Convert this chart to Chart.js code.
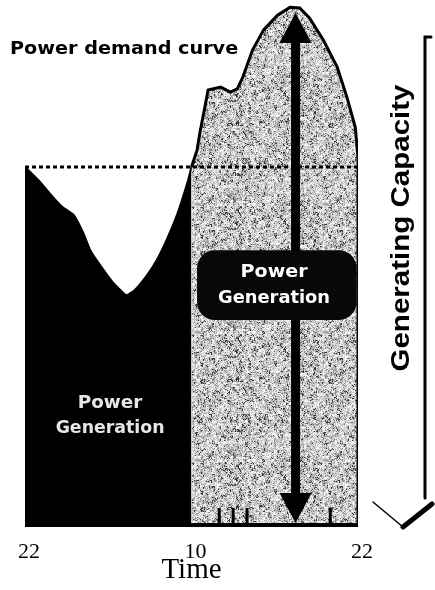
<!DOCTYPE html>
<html>
<head>
<meta charset="utf-8">
<script src="https://cdn.jsdelivr.net/npm/chart.js@4.4.1/dist/chart.umd.min.js"></script>
<style>
  html, body { margin: 0; padding: 0; background: #fff; }
</style>
</head>
<body>
<canvas id="chart" width="435" height="590"></canvas>
<script>
// Hours counted from 22:00, demand as % of generating capacity
const offPeakHours  = [0, 1.1, 2.0, 2.7, 3.5, 4.2, 4.7, 5.4, 6.3, 7.3, 7.9, 8.8, 9.5, 10.2, 11.0, 11.7, 12];
const offPeakDemand = [100, 95.8, 91.7, 88.9, 86.7, 81.7, 76.9, 72.8, 68.1, 64.4, 65.8, 70.0, 74.2, 79.7, 87.2, 95.6, 100];
const peakHours  = [12, 12.4, 12.6, 13.2, 14.1, 14.8, 15.3, 15.7, 16.4, 17.2, 18.2, 19.1, 19.8, 20.5, 21.5, 22.5, 23.2, 23.8, 24, 24];
const peakDemand = [100, 104.7, 109.4, 121.4, 122.2, 120.8, 121.7, 125, 132.5, 138.1, 142.2, 144.4, 144.2, 141.4, 135.3, 127.8, 119.4, 111.1, 102.8, 0];
const capacity = 100;
const tickHours  = [0, 12, 24];
const tickLabels = ['22', '10', '22'];
const hourMarks  = [14, 15, 16, 22];

// speckled grey like the scanned original
function stipple() {
    const n = 128;
    const c = document.createElement('canvas');
    c.width = c.height = n;
    const g = c.getContext('2d');
    const img = g.createImageData(n, n);
    const hash = k => {
        let h = (k * 2654435761) >>> 0;
        h ^= h >>> 15; h = Math.imul(h, 2246822519) >>> 0;
        h ^= h >>> 13; h = Math.imul(h, 3266489917) >>> 0;
        h ^= h >>> 16;
        return (h >>> 0) / 4294967296;
    };
    for (let py = 0; py < n; py++) {
        for (let px = 0; px < n; px++) {
            const i = py * n + px;
            const coarse = hash(Math.floor(py / 3) * 977 + Math.floor(px / 3) + 100003);
            const r = 0.6 * hash(i + 1) + 0.4 * coarse;
            const v = r < 0.2 ? 60 : r < 0.36 ? 145 : r < 0.58 ? 195 : r < 0.78 ? 228 : 252;
            img.data[i * 4] = img.data[i * 4 + 1] = img.data[i * 4 + 2] = v;
            img.data[i * 4 + 3] = 255;
        }
    }
    g.putImageData(img, 0, 0);
    return g.createPattern(c, 'repeat');
}

function wideText(ctx, text, x, y, sx) {
    ctx.save();
    ctx.translate(x, y);
    ctx.scale(sx, 1);
    ctx.fillText(text, 0, 0);
    ctx.restore();
}

const decor = {
    id: 'decor',
    afterDatasetsDraw(chart) {
        const { ctx, scales: { x, y } } = chart;
        const base = y.getPixelForValue(0);
        ctx.save();
        ctx.fillStyle = '#000';

        // bottom edge + hour marks
        ctx.fillRect(x.getPixelForValue(0), base - 4, x.getPixelForValue(24) - x.getPixelForValue(0), 4);
        hourMarks.forEach(h => ctx.fillRect(x.getPixelForValue(h) - 1.5, base - 19, 3, 15));

        // double-headed arrow
        const ax = x.getPixelForValue(19.5);
        const top = y.getPixelForValue(142.8);
        const bot = y.getPixelForValue(1.1);
        ctx.fillRect(ax - 4.5, top + 20, 9, bot - top - 40);
        ctx.beginPath();
        ctx.moveTo(ax, top); ctx.lineTo(ax + 16, top + 30); ctx.lineTo(ax - 16, top + 30); ctx.closePath();
        ctx.moveTo(ax, bot); ctx.lineTo(ax + 16, bot - 30); ctx.lineTo(ax - 16, bot - 30); ctx.closePath();
        ctx.fill();

        // rounded label box
        const bx0 = x.getPixelForValue(12.4), bx1 = x.getPixelForValue(23.9);
        const by0 = y.getPixelForValue(76.9), by1 = y.getPixelForValue(57.5);
        ctx.fillStyle = '#080808';
        ctx.beginPath();
        ctx.roundRect(bx0, by0, bx1 - bx0, by1 - by0, 18);
        ctx.fill();

        ctx.textAlign = 'center';
        ctx.textBaseline = 'alphabetic';
        ctx.font = 'bold 17px "DejaVu Sans"';
        ctx.fillStyle = '#fff';
        wideText(ctx, 'Power', x.getPixelForValue(17.95), y.getPixelForValue(69.4), 1.12);
        wideText(ctx, 'Generation', x.getPixelForValue(17.95), y.getPixelForValue(62.2), 1.05);
        ctx.fillStyle = '#e6e6e6';
        wideText(ctx, 'Power', x.getPixelForValue(6.13), y.getPixelForValue(33.1), 1.08);
        wideText(ctx, 'Generation', x.getPixelForValue(6.13), y.getPixelForValue(26.1), 1.02);

        // title
        ctx.fillStyle = '#000';
        ctx.textAlign = 'left';
        wideText(ctx, 'Power demand curve', 10, 54, 1.13);

        // generating capacity bracket
        ctx.strokeStyle = '#000';
        ctx.lineCap = 'round';
        ctx.lineWidth = 3;
        ctx.beginPath();
        ctx.moveTo(431, 37); ctx.lineTo(425, 37); ctx.lineTo(425, 498);
        ctx.stroke();
        ctx.lineWidth = 1.5;
        ctx.beginPath();
        ctx.moveTo(373, 502); ctx.lineTo(403, 527);
        ctx.stroke();
        ctx.lineWidth = 5;
        ctx.beginPath();
        ctx.moveTo(403, 527); ctx.lineTo(432, 504);
        ctx.stroke();

        ctx.save();
        ctx.translate(409, 228);
        ctx.rotate(-Math.PI / 2);
        ctx.font = 'bold 26px "Liberation Sans"';
        ctx.textAlign = 'center';
        const w = ctx.measureText('Generating Capacity').width;
        ctx.scale(287 / w, 1);
        ctx.fillText('Generating Capacity', 0, 0);
        ctx.restore();

        ctx.restore();
    }
};

const toPoints = (xs, ys) => xs.map((h, i) => ({ x: h, y: ys[i] }));

new Chart(document.getElementById('chart'), {
    type: 'scatter',
    data: {
        datasets: [
            {
                label: 'Capacity',
                data: [{ x: 0, y: capacity }, { x: 24, y: capacity }],
                showLine: true,
                borderColor: '#000',
                borderWidth: 3,
                borderDash: [4, 3],
                pointRadius: 0,
                fill: false,
                order: 0
            },
            {
                label: 'Peak generation',
                data: toPoints(peakHours, peakDemand),
                showLine: true,
                borderColor: '#000',
                borderWidth: 3,
                backgroundColor: stipple(),
                pointRadius: 0,
                fill: 'origin',
                tension: 0,
                order: 1
            },
            {
                label: 'Off-peak generation',
                data: toPoints(offPeakHours, offPeakDemand),
                showLine: true,
                borderColor: '#000',
                borderWidth: 2,
                backgroundColor: '#000',
                pointRadius: 0,
                fill: 'origin',
                tension: 0.15,
                order: 2
            }
        ]
    },
    options: {
        responsive: false,
        animation: false,
        devicePixelRatio: 1,
        layout: { padding: { left: 25, right: 77, top: 0, bottom: 0 } },
        plugins: {
            legend: { display: false },
            tooltip: { enabled: false }
        },
        scales: {
            x: {
                type: 'linear',
                min: 0,
                max: 24,
                afterBuildTicks: s => { s.ticks = tickHours.map(v => ({ value: v })); },
                afterFit: s => { s.height = 63; },
                grid: { display: false, drawTicks: false },
                border: { display: false },
                ticks: {
                    padding: 12,
                    labelOffset: 4,
                    maxRotation: 0,
                    autoSkip: false,
                    color: '#000',
                    font: { family: 'Liberation Serif', size: 22 },
                    callback: v => tickLabels[tickHours.indexOf(v)]
                },
                title: {
                    display: true,
                    text: 'Time',
                    color: '#000',
                    font: { family: 'Liberation Serif', size: 29 },
                    padding: { top: 0, bottom: 2 }
                }
            },
            y: { display: false, min: 0, max: 146.4 }
        }
    },
    plugins: [decor]
});
</script>
</body>
</html>
